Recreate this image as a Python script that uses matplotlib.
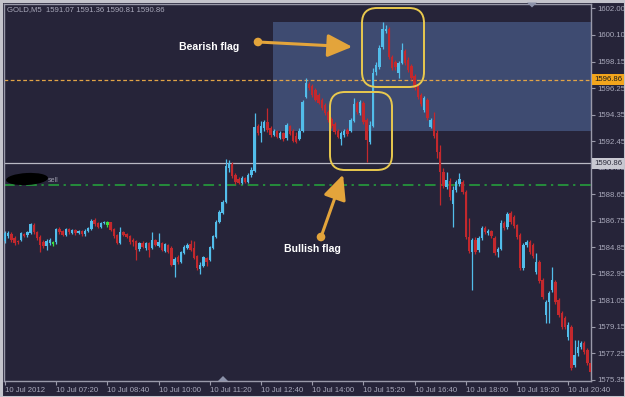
import matplotlib
matplotlib.use('Agg')
import matplotlib.pyplot as plt
from matplotlib.transforms import Affine2D
from matplotlib.patches import FancyBboxPatch, Rectangle, Polygon, Ellipse, FancyArrowPatch, Circle
import numpy as np

# ---------------- data (GOLD, M5, 10 Jul 2012, 06:00 -> 21:15) ----------------
opens = [1585.31,1585.66,1585.80,1585.52,1585.31,1585.38,1585.80,1585.73,1585.87,1586.45,
         1585.95,1585.59,1585.24,1584.95,1585.16,1585.09,1585.24,1586.16,1586.02,1585.73,
         1586.16,1585.87,1586.09,1585.87,1586.02,1585.80,1586.02,1586.16,1586.81,1586.59,
         1586.31,1586.59,1586.45,1586.67,1586.16,1585.73,1585.16,1585.95,1585.80,1585.66,
         1585.38,1585.31,1584.73,1585.16,1584.81,1585.16,1584.81,1585.38,1584.95,1585.16,
         1584.59,1585.02,1584.81,1583.58,1584.16,1583.80,1584.45,1584.81,1585.09,1584.81,
         1584.23,1583.30,1583.51,1584.09,1583.94,1584.81,1585.59,1586.67,1587.31,1588.10,
         1590.54,1590.83,1590.03,1589.75,1589.46,1589.82,1589.54,1590.03,1590.32,1593.55,
         1593.05,1593.41,1593.84,1593.41,1592.90,1593.19,1592.69,1593.05,1592.69,1593.55,
         1593.19,1592.83,1592.62,1593.19,1595.63,1596.56,1596.42,1596.13,1595.77,1595.41,
         1595.06,1594.55,1594.05,1593.69,1593.19,1592.62,1592.90,1593.26,1593.19,1593.91,
         1595.20,1594.48,1595.20,1593.98,1592.40,1593.55,1597.42,1597.78,1599.21,1600.36,
         1600.50,1598.49,1598.14,1597.35,1598.06,1598.92,1598.28,1597.85,1597.13,1596.42,
         1595.77,1594.70,1595.41,1593.48,1593.98,1593.05,1591.68,1590.25,1589.18,1589.61,
         1587.96,1588.96,1589.39,1589.54,1588.82,1585.59,1584.52,1585.38,1584.66,1585.52,
         1586.24,1585.87,1586.02,1585.52,1584.52,1584.73,1586.59,1586.31,1587.31,1587.03,
         1586.45,1585.73,1583.37,1585.02,1585.24,1585.02,1583.08,1583.80,1582.51,1580.00,
         1580.93,1581.79,1582.37,1581.08,1580.15,1579.79,1578.43,1579.14,1576.42,1577.28,
         1577.71,1578.00,1577.49,1576.56]
highs = [1586.02,1586.02,1585.95,1585.66,1585.38,1585.95,1585.87,1586.02,1586.59,1586.59,
         1586.02,1585.73,1585.38,1585.45,1585.52,1585.31,1586.24,1586.31,1586.09,1586.24,
         1586.24,1586.16,1586.16,1586.09,1586.09,1586.16,1586.31,1586.88,1586.95,1586.67,
         1586.67,1586.74,1586.74,1586.67,1586.24,1585.80,1586.31,1586.02,1585.87,1585.73,
         1585.52,1585.38,1585.24,1585.31,1585.24,1585.24,1585.95,1585.45,1585.87,1585.24,
         1585.16,1585.09,1584.95,1584.16,1584.30,1584.59,1585.02,1585.16,1585.38,1585.31,
         1584.30,1583.80,1584.23,1584.16,1584.95,1585.73,1586.81,1587.53,1588.24,1591.18,
         1591.11,1590.97,1590.18,1589.89,1589.96,1589.89,1590.18,1590.61,1594.48,1593.69,
         1593.91,1593.98,1594.84,1593.55,1593.33,1593.26,1593.19,1593.12,1593.76,1593.62,
         1593.33,1593.12,1593.41,1595.41,1596.99,1596.70,1596.56,1596.27,1595.91,1595.56,
         1595.20,1594.70,1594.19,1593.84,1593.33,1593.19,1593.33,1593.41,1594.12,1595.56,
         1595.34,1595.41,1595.34,1594.12,1593.91,1597.71,1598.14,1599.35,1601.00,1600.79,
         1600.64,1598.64,1598.28,1598.21,1599.50,1599.07,1598.49,1597.99,1597.28,1596.56,
         1595.91,1595.70,1595.56,1594.12,1594.55,1593.26,1592.19,1590.54,1590.25,1589.82,
         1589.25,1589.68,1590.18,1589.68,1588.96,1586.95,1585.52,1585.59,1585.66,1586.38,
         1586.38,1586.16,1586.09,1585.66,1584.88,1586.81,1586.74,1587.39,1587.46,1587.17,
         1586.52,1585.87,1585.16,1585.38,1585.38,1585.16,1584.45,1583.94,1582.65,1581.08,
         1581.72,1583.44,1582.51,1581.22,1580.29,1579.93,1579.50,1579.28,1578.21,1578.21,
         1578.14,1578.14,1577.63,1576.78]
lows = [1585.16,1585.52,1585.24,1585.02,1585.09,1585.31,1585.59,1585.59,1585.80,1585.80,
        1585.38,1584.52,1584.81,1584.66,1585.02,1584.95,1585.09,1585.80,1585.66,1585.66,
        1585.80,1585.80,1585.73,1585.80,1585.66,1585.66,1585.95,1586.09,1586.38,1586.24,
        1586.24,1586.52,1586.31,1586.02,1585.52,1585.09,1585.09,1585.66,1585.52,1585.09,
        1584.95,1583.94,1584.59,1584.81,1584.66,1584.16,1584.73,1584.95,1584.88,1584.59,
        1584.52,1584.45,1583.51,1582.73,1583.66,1583.73,1584.37,1584.73,1584.59,1584.01,
        1583.23,1582.94,1583.44,1583.51,1583.87,1584.73,1585.52,1586.59,1587.24,1588.03,
        1590.25,1589.82,1589.39,1589.39,1589.39,1589.46,1589.46,1589.89,1590.25,1592.90,
        1592.40,1593.19,1593.12,1592.76,1592.83,1592.69,1592.62,1592.47,1592.55,1592.90,
        1592.40,1592.33,1592.55,1593.12,1595.56,1596.13,1595.63,1595.34,1595.13,1594.70,
        1594.34,1593.84,1593.41,1592.98,1592.69,1592.19,1592.76,1592.83,1593.12,1593.84,
        1594.41,1594.34,1593.69,1590.97,1592.26,1593.48,1597.20,1597.63,1599.07,1600.21,
        1598.35,1597.56,1597.56,1596.99,1597.99,1597.92,1597.42,1596.85,1596.13,1595.48,
        1594.98,1594.55,1593.98,1593.41,1592.69,1591.25,1587.88,1589.10,1589.03,1588.24,
        1586.31,1588.82,1589.25,1588.67,1585.45,1584.45,1581.79,1584.37,1584.52,1585.38,
        1585.80,1585.73,1585.52,1584.30,1584.16,1584.66,1586.09,1586.16,1586.52,1586.24,
        1585.45,1583.23,1583.23,1584.88,1584.37,1584.09,1582.94,1582.30,1581.15,1579.43,
        1579.43,1581.65,1580.79,1579.85,1579.00,1579.00,1578.21,1576.06,1576.27,1577.06,
        1577.56,1577.21,1576.42,1575.63]
closes = [1585.87,1585.87,1585.38,1585.16,1585.24,1585.87,1585.66,1585.95,1586.52,1585.95,
          1585.52,1585.02,1584.95,1585.31,1585.38,1585.24,1586.16,1585.95,1585.73,1586.16,
          1585.95,1586.09,1585.87,1586.02,1585.80,1586.02,1586.24,1586.74,1586.52,1586.31,
          1586.59,1586.67,1586.67,1586.09,1585.66,1585.16,1585.95,1585.73,1585.59,1585.24,
          1585.24,1584.66,1585.16,1584.88,1585.16,1584.66,1585.38,1585.02,1585.24,1584.66,
          1585.09,1584.52,1583.58,1584.01,1583.80,1584.52,1584.88,1585.02,1584.66,1584.09,
          1583.37,1583.58,1584.16,1583.80,1584.88,1585.66,1586.67,1587.39,1588.10,1590.68,
          1590.90,1589.96,1589.54,1589.46,1589.82,1589.54,1590.03,1590.39,1593.48,1593.05,
          1593.55,1593.84,1593.26,1592.90,1593.19,1592.76,1593.05,1592.62,1593.62,1592.98,
          1592.47,1592.40,1593.19,1595.27,1596.63,1596.27,1595.77,1595.41,1595.20,1594.84,
          1594.48,1593.98,1593.55,1593.12,1592.76,1593.05,1593.19,1592.98,1593.98,1595.13,
          1594.55,1595.27,1593.84,1592.55,1593.62,1597.35,1597.92,1599.14,1600.50,1600.50,
          1598.49,1597.71,1597.78,1598.06,1599.00,1598.06,1597.56,1596.99,1596.27,1595.63,
          1595.13,1595.56,1594.12,1593.98,1592.83,1591.68,1590.25,1589.25,1589.68,1588.46,
          1588.96,1589.54,1589.75,1588.82,1585.59,1584.59,1585.38,1584.52,1585.52,1586.24,
          1585.95,1586.02,1585.66,1584.45,1584.73,1586.59,1586.24,1587.24,1586.67,1586.38,
          1585.59,1583.37,1585.02,1585.24,1584.52,1584.23,1583.80,1582.44,1581.29,1580.93,
          1581.58,1582.51,1580.93,1580.00,1579.14,1579.14,1579.28,1576.20,1577.13,1577.71,
          1578.00,1577.35,1576.56,1575.92]
green_bars = [15, 32]

time_labels = ["10 Jul 2012", "10 Jul 07:20", "10 Jul 08:40", "10 Jul 10:00",
               "10 Jul 11:20", "10 Jul 12:40", "10 Jul 14:00", "10 Jul 15:20",
               "10 Jul 16:40", "10 Jul 18:00", "10 Jul 19:20", "10 Jul 20:40"]
price_labels = ["1602.00", "1600.10", "1598.15", "1596.25", "1594.35", "1592.45",
                "1590.55", "1588.65", "1586.75", "1584.85", "1582.95", "1581.05",
                "1579.15", "1577.25", "1575.35"]
ask_level = 1596.86
bid_level = 1590.86
sell_level = 1589.32
zone_start_bar = 84
zone_low, zone_high = 1593.19, 1600.98
title = "GOLD,M5  1591.07 1591.36 1590.81 1590.86"

# ---------------- style ----------------
W, H = 625, 397
BG = '#262439'
BLUE = '#52bdea'
RED = '#c3282d'
GREEN = '#3ee03e'
TXT = '#a9a9bb'
FONT = 'Liberation Sans'

fig = plt.figure(figsize=(W / 100, H / 100), dpi=100)
fig.patch.set_facecolor(BG)
ax = fig.add_axes([4 / W, (H - 381) / H, (591 - 4) / W, (381 - 4) / H])
ax.set_facecolor(BG)

n = len(opens)
x = np.arange(n)
o = np.array(opens); c = np.array(closes); hi = np.array(highs); lo = np.array(lows)
cols = np.where(c >= o, BLUE, RED).astype(object)
for g in green_bars:
    cols[g] = GREEN

ax.set_xlim(-1 / 3.2, (591 - 5) / 3.2)
ax.set_ylim(1575.27, 1602.29)

# zone rectangle
ax.add_patch(Rectangle((zone_start_bar - 0.25, zone_low), 300, zone_high - zone_low,
                       facecolor='#3e4b71', edgecolor='none', zorder=0.5))

# levels
ax.axhline(ask_level, color='#e2a447', lw=0.9, ls=(0, (3, 2)), zorder=1)
ax.axhline(bid_level, color='#b9b9c4', lw=0.9, zorder=1)
ax.axhline(sell_level, color='#25a83c', lw=1.1, ls=(0, (7, 3, 1.5, 3)), zorder=1)

# candles
ax.vlines(x, lo, hi, colors=list(cols), lw=0.9, zorder=2)
body_lo = np.minimum(o, c)
body_h = np.maximum(np.abs(c - o), 0.05)
ax.bar(x, body_h, bottom=body_lo, width=0.8, color=list(cols), lw=0, zorder=3)

# axes styling
for s in ax.spines.values():
    s.set_color('#9a9aaa')
    s.set_linewidth(1.0)
ax.set_xticks(np.arange(0, 16 * len(time_labels), 16))
ax.set_xticklabels(time_labels, fontsize=5.6, color=TXT, family=FONT)
for lab in ax.get_xticklabels():
    lab.set_ha('left')
ax.tick_params(axis='x', colors='#9a9aaa', length=3, pad=1.5, width=0.8)
ax.yaxis.tick_right()
ax.set_yticks([float(p) for p in price_labels])
ax.set_yticklabels(price_labels, fontsize=5.6, color=TXT, family=FONT)
ax.tick_params(axis='y', colors='#9a9aaa', length=3, pad=1.5, width=0.8)
for lab in ax.get_xticklabels() + ax.get_yticklabels():
    lab.set_color(TXT)

# price boxes on the right axis
ytr = ax.get_yaxis_transform()
ax.text(1.006, ask_level, f"{ask_level:.2f}", transform=ytr, ha='left', va='center',
        fontsize=5.6, family=FONT, color='#1a1a1a', zorder=10, clip_on=False,
        bbox=dict(boxstyle='square,pad=0.28', fc='#f3a51c', ec='none'))
ax.text(1.006, bid_level, f"{bid_level:.2f}", transform=ytr, ha='left', va='center',
        fontsize=5.6, family=FONT, color='#2a2a3a', zorder=10, clip_on=False,
        bbox=dict(boxstyle='square,pad=0.28', fc='#c9c9d2', ec='none'))

# title
fig.text(7 / W, 1 - 10 / H, title, fontsize=5.6, family=FONT, color=TXT, va='center', ha='left')

# pixel transform for annotations (image pixel coords, y down)
px = Affine2D().scale(1, -1).translate(0, H)

# outer frame
fig.add_artist(Rectangle((0.5, 0.5), W - 1, H - 1, transform=px, fill=False,
                         ec='#c4c4cc', lw=2.2))

# sell marker
fig.add_artist(Ellipse((27, 179), 42, 12, angle=-3, transform=px, fc='black', ec='none', zorder=5))
fig.text(48 / W, 1 - 180 / H, 'sell', fontsize=5, family=FONT, color='#9a9aaa', va='center', ha='left')

# small scroll triangles
fig.add_artist(Polygon([(527, 2.5), (537, 2.5), (532, 7.5)], closed=True, transform=px,
                       fc='#8c92aa', ec='none', zorder=6))
fig.add_artist(Polygon([(218, 381), (228, 381), (223, 376)], closed=True, transform=px,
                       fc='#8c92aa', ec='none', zorder=6))

# flag highlight boxes
YEL = '#e9c94e'
fig.add_artist(FancyBboxPatch((362, 8), 62, 79, boxstyle='round,pad=0,rounding_size=15',
                              transform=px, fill=False, ec=YEL, lw=1.4, zorder=7))
fig.add_artist(FancyBboxPatch((330, 92), 62, 78, boxstyle='round,pad=0,rounding_size=15',
                              transform=px, fill=False, ec=YEL, lw=1.4, zorder=7))

# arrows
ORG = '#e3a43b'
fig.add_artist(FancyArrowPatch((258, 42), (355, 47), transform=px,
                               arrowstyle='-|>,head_length=15,head_width=7',
                               color=ORG, lw=2.2, mutation_scale=1, zorder=8))
fig.add_artist(Circle((258, 42), 3.6, transform=px, color=ORG, zorder=8))
fig.add_artist(FancyArrowPatch((321, 237), (344, 172), transform=px,
                               arrowstyle='-|>,head_length=15,head_width=7',
                               color=ORG, lw=2.2, mutation_scale=1, zorder=8))
fig.add_artist(Circle((321, 237), 3.6, transform=px, color=ORG, zorder=8))

fig.text(179 / W, 1 - 47.5 / H, 'Bearish flag', fontsize=7.6, family=FONT, weight='bold',
         color='white', va='center', ha='left', zorder=9)
fig.text(312 / W, 1 - 249 / H, 'Bullish flag', fontsize=7.6, family=FONT, weight='bold',
         color='white', va='center', ha='center', zorder=9)

fig.savefig('out.png', dpi=100, facecolor=fig.get_facecolor())
